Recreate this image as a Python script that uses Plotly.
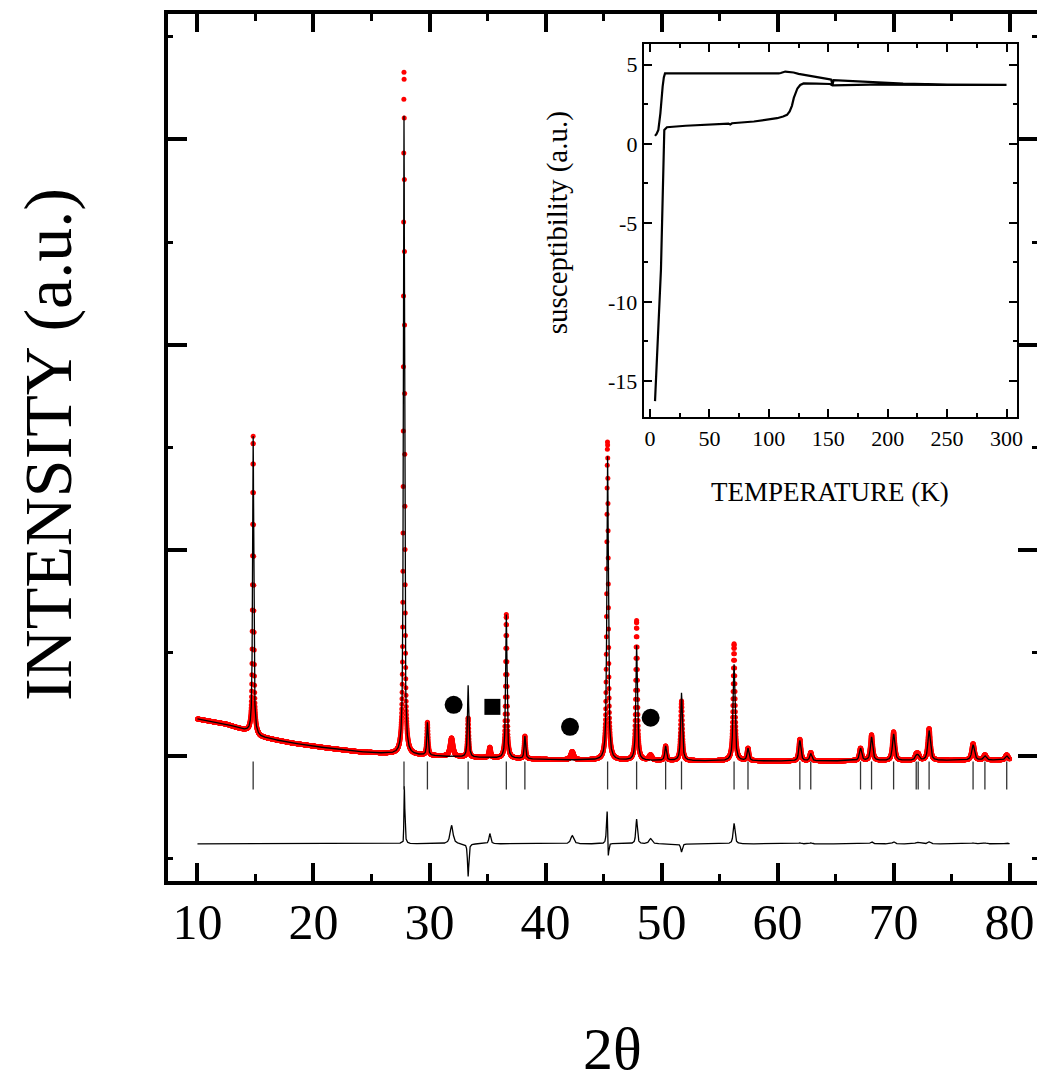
import numpy as np
import plotly.graph_objects as go

# ---------------- XRD pattern ----------------
scan_start, scan_end, scan_step = 10.0, 80.0, 0.01

# calculated background (2theta, intensity in units of one major tick)
bg_pos = [10.0, 12.5, 14.3, 15.4, 18.2, 21.1, 23.9, 26.2, 28.0, 32.0, 36.0, 41.0, 50.0, 60.0, 70.0, 80.0]
bg_val = [0.178, 0.152, 0.118, 0.090, 0.060, 0.037, 0.018, 0.010, 0.004, -0.006, -0.013, -0.021, -0.025, -0.027, -0.025, -0.022]

# main phase reflections (Bragg positions)
peak_pos    = [14.80, 27.80, 29.82, 33.33, 36.62, 38.22, 45.35, 47.85, 50.35, 51.72, 56.25, 57.45,
               61.92, 62.86, 67.15, 68.10, 70.00, 71.95, 72.12, 73.06, 76.85, 77.87, 79.75]
calc_height = [1.45, 3.11, 0.16, 0.35, 0.70, 0.11, 1.48, 0.56, 0.07, 0.33, 0.47, 0.06,
               0.10, 0.035, 0.06, 0.115, 0.13, 0.02, 0.02, 0.145, 0.075, 0.02, 0.02]
obs_height  = [1.45, 3.33, 0.16, 0.19, 0.70, 0.11, 1.55, 0.68, 0.07, 0.29, 0.57, 0.06,
               0.105, 0.04, 0.06, 0.125, 0.14, 0.025, 0.025, 0.155, 0.08, 0.025, 0.025]
obs_shift   = [0.0, 0.003, 0.0, 0.0, 0.0, 0.0, -0.008, 0.0, 0.0, 0.0, 0.0, 0.0,
               0.0, 0.0, 0.0, 0.0, 0.0, 0.0, 0.0, 0.0, 0.0, 0.0, 0.0]
peak_fwhm   = [0.12, 0.12, 0.13, 0.13, 0.14, 0.14, 0.15, 0.16, 0.17, 0.17, 0.19, 0.19,
               0.21, 0.21, 0.23, 0.23, 0.24, 0.25, 0.25, 0.25, 0.27, 0.27, 0.28]
lorentz_fraction = 0.75

# impurity reflections (observed only)
imp_pos    = [31.90, 35.20, 42.30, 49.05]
imp_height = [0.09, 0.05, 0.04, 0.025]
imp_fwhm   = [0.30, 0.18, 0.30, 0.30]

# impurity symbols
circle_x = [32.08, 42.11, 49.06]
circle_y = [0.247, 0.140, 0.184]
square_x = [35.42]
square_y = [0.237]

diff_offset = -0.43
bragg_row_y = -0.097

# ---------------- susceptibility inset ----------------
inset_T = [4.2, 9.2, 12.0, 14.2, 30.0, 45.5, 66.0, 67.5, 69.0, 87.4, 100.0, 106.9, 112.0, 115.3,
           117.5, 119.4, 121.0, 122.2, 124.0, 126.4, 129.2, 140.0, 151.5, 153.5, 185.0, 250.0, 300.0,
           250.0, 213.0, 185.0, 160.0, 154.5, 153.5, 152.5, 151.5, 134.8, 125.0, 120.8, 116.0, 113.8,
           110.0, 108.3, 73.4, 14.8, 12.6, 11.6, 10.6, 8.7, 7.0, 5.5, 4.2]
inset_chi = [-16.27, -7.93, 0.88, 1.05, 1.14, 1.20, 1.28, 1.22, 1.30, 1.41, 1.52, 1.62, 1.73, 1.83,
             2.05, 2.40, 2.90, 3.19, 3.50, 3.72, 3.82, 3.80, 3.78, 3.70, 3.74, 3.72, 3.72,
             3.74, 3.80, 3.89, 3.98, 4.03, 3.72, 4.05, 4.07, 4.28, 4.42, 4.51, 4.56, 4.57,
             4.48, 4.45, 4.45, 4.47, 4.45, 4.20, 3.61, 1.93, 0.88, 0.62, 0.50]


# ---------------- build profiles ----------------
tt = np.arange(scan_start, scan_end + scan_step / 2, scan_step)
background = np.interp(tt, bg_pos, bg_val)


def pv(x, x0, h, w):
    d = (x - x0) / w
    lor = 1.0 / (1.0 + 4.0 * d * d)
    gau = np.exp(-4.0 * np.log(2.0) * d * d)
    return h * (lorentz_fraction * lor + (1 - lorentz_fraction) * gau)


calc = background.copy()
obs = background.copy()
for p, hc, ho, s, w in zip(peak_pos, calc_height, obs_height, obs_shift, peak_fwhm):
    calc += pv(tt, p, hc, w)
    obs += pv(tt, p + s, ho, w)
for p, h, w in zip(imp_pos, imp_height, imp_fwhm):
    obs += pv(tt, p, h, w)
diff = obs - calc + diff_offset

FONT = "Liberation Serif, Times New Roman, serif"

fig = go.Figure()
fig.add_trace(go.Scatter(x=tt, y=obs, mode="markers",
                         marker=dict(color="#ff0000", size=5, line=dict(width=0)),
                         hoverinfo="skip"))
fig.add_trace(go.Scatter(x=tt, y=calc, mode="lines", line=dict(color="black", width=1.3),
                         hoverinfo="skip"))
fig.add_trace(go.Scatter(x=tt, y=diff, mode="lines", line=dict(color="black", width=1.3),
                         hoverinfo="skip"))
fig.add_trace(go.Scatter(x=peak_pos, y=[bragg_row_y] * len(peak_pos), mode="markers",
                         marker=dict(symbol="line-ns", size=20, line=dict(color="#333333", width=1.3)),
                         hoverinfo="skip"))
fig.add_trace(go.Scatter(x=circle_x, y=circle_y, mode="markers",
                         marker=dict(symbol="circle", size=18, color="black"), hoverinfo="skip"))
fig.add_trace(go.Scatter(x=square_x, y=square_y, mode="markers",
                         marker=dict(symbol="square", size=16, color="black"), hoverinfo="skip"))

# inset
fig.add_trace(go.Scatter(x=inset_T, y=inset_chi, mode="lines", xaxis="x2", yaxis="y2",
                         line=dict(color="black", width=2.2), hoverinfo="skip"))

fig.update_layout(
    width=1037, height=1077,
    margin=dict(l=160, r=4, t=2, b=204),
    paper_bgcolor="white", plot_bgcolor="white",
    showlegend=False,
    font=dict(family=FONT, color="black"),
    xaxis=dict(range=[7.46, 82.36], tickvals=[10, 20, 30, 40, 50, 60, 70, 80],
               ticks="inside", ticklen=18, tickwidth=4, tickcolor="black",
               minor=dict(dtick=5, tick0=0, ticks="inside", ticklen=7, tickwidth=3, tickcolor="black"),
               showline=True, linewidth=3.5, linecolor="black", mirror="ticks",
               showgrid=False, zeroline=False,
               tickfont=dict(family=FONT, size=50), ticklabelstandoff=-6),
    yaxis=dict(range=[-0.611, 3.611], tickvals=[0, 1, 2, 3],
               ticks="inside", ticklen=19, tickwidth=4, tickcolor="black",
               minor=dict(dtick=0.5, tick0=0, ticks="inside", ticklen=5, tickwidth=3, tickcolor="black"),
               showline=True, linewidth=3.5, linecolor="black", mirror="ticks",
               showgrid=False, zeroline=False, showticklabels=False),
    xaxis2=dict(domain=[0.5475, 0.9771], anchor="y2", range=[-5.27, 308.9],
                tickvals=[0, 50, 100, 150, 200, 250, 300],
                ticks="inside", ticklen=8, tickwidth=1.5, tickcolor="black",
                minor=dict(dtick=25, tick0=0, ticks="inside", ticklen=4, tickwidth=1.5, tickcolor="black"),
                showline=True, linewidth=2, linecolor="black", mirror="ticks",
                showgrid=False, zeroline=False, tickfont=dict(family=FONT, size=22)),
    yaxis2=dict(domain=[0.5350, 0.9656], anchor="x2", range=[-17.285, 6.322],
                tickvals=[-15, -10, -5, 0, 5], ticktext=["-15", "-10", "-5", "0", "5"],
                ticks="inside", ticklen=8, tickwidth=1.5, tickcolor="black",
                minor=dict(dtick=2.5, tick0=0, ticks="inside", ticklen=4, tickwidth=1.5, tickcolor="black"),
                showline=True, linewidth=2, linecolor="black", mirror="ticks",
                showgrid=False, zeroline=False, tickfont=dict(family=FONT, size=22)),
    annotations=[
        dict(text="INTENSITY (a.u.)", xref="paper", yref="paper", x=-0.1386, y=0.5034,
             xanchor="center", yanchor="middle", textangle=-90, showarrow=False,
             font=dict(family=FONT, size=68)),
        dict(text="2θ", xref="paper", yref="paper", x=0.512, y=-0.1940,
             xanchor="center", yanchor="middle", showarrow=False,
             font=dict(family=FONT, size=60)),
        dict(text="susceptibility (a.u.)", xref="paper", yref="paper", x=0.4479, y=0.7589,
             xanchor="center", yanchor="middle", textangle=-90, showarrow=False,
             font=dict(family=FONT, size=29)),
        dict(text="TEMPERATURE (K)", xref="paper", yref="paper", x=0.7623, y=0.4489,
             xanchor="center", yanchor="middle", showarrow=False,
             font=dict(family=FONT, size=27)),
    ],
)

fig.write_html("out.html")
